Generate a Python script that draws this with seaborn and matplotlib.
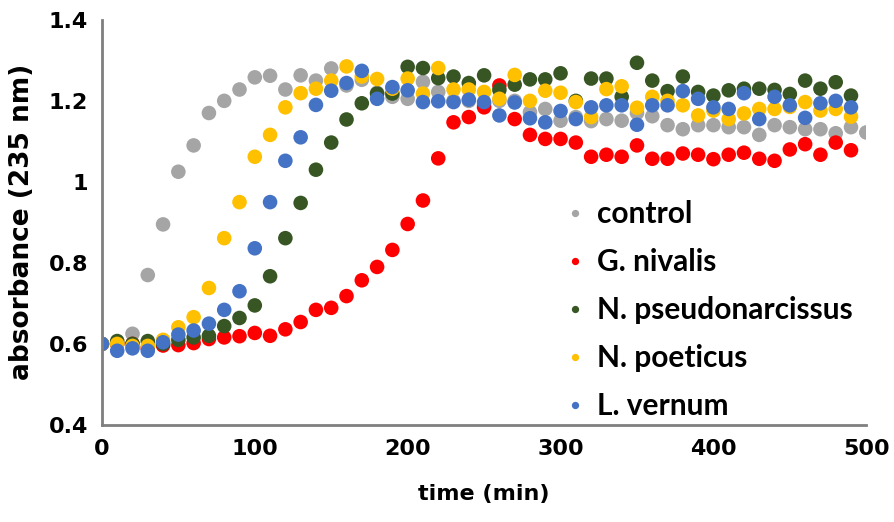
import numpy as np
import pandas as pd
import seaborn as sns
import matplotlib.pyplot as plt

# time axis (min)
time = list(range(0, 500, 10))
time_control = list(range(0, 510, 10))

control = [0.60, 0.60, 0.625, 0.77, 0.895, 1.025, 1.09, 1.17, 1.20, 1.228,
           1.258, 1.262, 1.228, 1.263, 1.25, 1.28, 1.238, 1.252, 1.22, 1.21,
           1.205, 1.247, 1.222, 1.20, 1.20, 1.19, 1.20, 1.20, 1.172, 1.18,
           1.151, 1.16, 1.15, 1.155, 1.151, 1.17, 1.162, 1.14, 1.13, 1.14,
           1.14, 1.135, 1.135, 1.116, 1.14, 1.135, 1.13, 1.13, 1.12, 1.135,
           1.122]
g_nivalis = [0.60, 0.60, 0.60, 0.59, 0.596, 0.597, 0.602, 0.612, 0.616, 0.619,
             0.627, 0.62, 0.636, 0.654, 0.684, 0.689, 0.718, 0.757, 0.79, 0.832,
             0.896, 0.954, 1.058, 1.147, 1.16, 1.184, 1.238, 1.155, 1.116, 1.106,
             1.106, 1.097, 1.062, 1.067, 1.062, 1.09, 1.057, 1.057, 1.07, 1.067,
             1.056, 1.067, 1.072, 1.057, 1.052, 1.08, 1.093, 1.067, 1.097, 1.078]
n_pseudonarcissus = [0.60, 0.607, 0.60, 0.607, 0.60, 0.61, 0.616, 0.62, 0.644, 0.664,
                     0.695, 0.767, 0.861, 0.948, 1.03, 1.097, 1.154, 1.194, 1.218, 1.218,
                     1.284, 1.281, 1.256, 1.26, 1.244, 1.263, 1.227, 1.24, 1.253, 1.253,
                     1.268, 1.20, 1.255, 1.255, 1.21, 1.294, 1.25, 1.224, 1.26, 1.222,
                     1.213, 1.226, 1.23, 1.23, 1.227, 1.217, 1.25, 1.23, 1.246, 1.213]
n_poeticus = [0.60, 0.60, 0.595, 0.595, 0.61, 0.641, 0.666, 0.738, 0.861, 0.95,
              1.062, 1.116, 1.184, 1.219, 1.23, 1.25, 1.285, 1.26, 1.254, 1.23,
              1.255, 1.218, 1.281, 1.228, 1.228, 1.222, 1.205, 1.264, 1.20, 1.225,
              1.22, 1.197, 1.16, 1.229, 1.236, 1.183, 1.21, 1.20, 1.189, 1.164,
              1.176, 1.155, 1.169, 1.18, 1.18, 1.185, 1.197, 1.176, 1.18, 1.161]
l_vernum = [0.60, 0.583, 0.589, 0.583, 0.604, 0.623, 0.633, 0.65, 0.684, 0.73,
            0.836, 0.95, 1.052, 1.11, 1.19, 1.225, 1.244, 1.274, 1.205, 1.234,
            1.226, 1.197, 1.199, 1.197, 1.203, 1.197, 1.164, 1.196, 1.157, 1.147,
            1.175, 1.155, 1.184, 1.189, 1.189, 1.141, 1.189, 1.189, 1.224, 1.205,
            1.184, 1.18, 1.219, 1.155, 1.21, 1.189, 1.158, 1.194, 1.20, 1.184]

labels = ["control", "G. nivalis", "N. pseudonarcissus", "N. poeticus", "L. vernum"]
colors = ["#A5A5A5", "#FF0000", "#375623", "#FFC000", "#4472C4"]

frames = []
for name, t, vals in zip(labels,
                         [time_control, time, time, time, time],
                         [control, g_nivalis, n_pseudonarcissus, n_poeticus, l_vernum]):
    frames.append(pd.DataFrame({"time": t, "absorbance": vals, "sample": name}))
df = pd.concat(frames, ignore_index=True)

sns.set_style("white")
plt.rcParams["font.family"] = ["DejaVu Sans"]
plt.rcParams["text.color"] = "black"
plt.rcParams["axes.labelcolor"] = "black"
plt.rcParams["xtick.color"] = "black"
plt.rcParams["ytick.color"] = "black"

fig = plt.figure(figsize=(8.94, 5.22), dpi=100)
ax = fig.add_axes([0.114, 0.186, 0.855, 0.776])

sns.scatterplot(data=df, x="time", y="absorbance", hue="sample",
                palette=dict(zip(labels, colors)), hue_order=labels,
                s=110, linewidth=0, alpha=1, ax=ax)

ax.set_xlim(0, 500)
ax.set_ylim(0.4, 1.4)
ax.set_xticks([0, 100, 200, 300, 400, 500])
ax.set_yticks([0.4, 0.6, 0.8, 1.0, 1.2, 1.4])
ax.set_yticklabels(["0.4", "0.6", "0.8", "1", "1.2", "1.4"])
ax.tick_params(axis="both", length=0, labelsize=16, pad=10)
for lab in ax.get_xticklabels() + ax.get_yticklabels():
    lab.set_fontweight("bold")

ax.set_xlabel("time (min)", fontsize=16, fontweight="bold", labelpad=18)
ax.set_ylabel("absorbance (235 nm)", fontsize=19, fontweight="bold", labelpad=10)

for side in ["top", "right"]:
    ax.spines[side].set_visible(False)
for side in ["left", "bottom"]:
    ax.spines[side].set_color("#7f7f7f")
    ax.spines[side].set_linewidth(2)

leg = ax.legend(loc="lower left", bbox_to_anchor=(0.572, -0.04), frameon=False,
                prop={"family": "Lato", "weight": "bold", "size": 21.5},
                markerscale=0.5, handlelength=1.0, handletextpad=0.25,
                labelspacing=0.67, borderpad=0.2)

fig.savefig("out.png", dpi=100)
